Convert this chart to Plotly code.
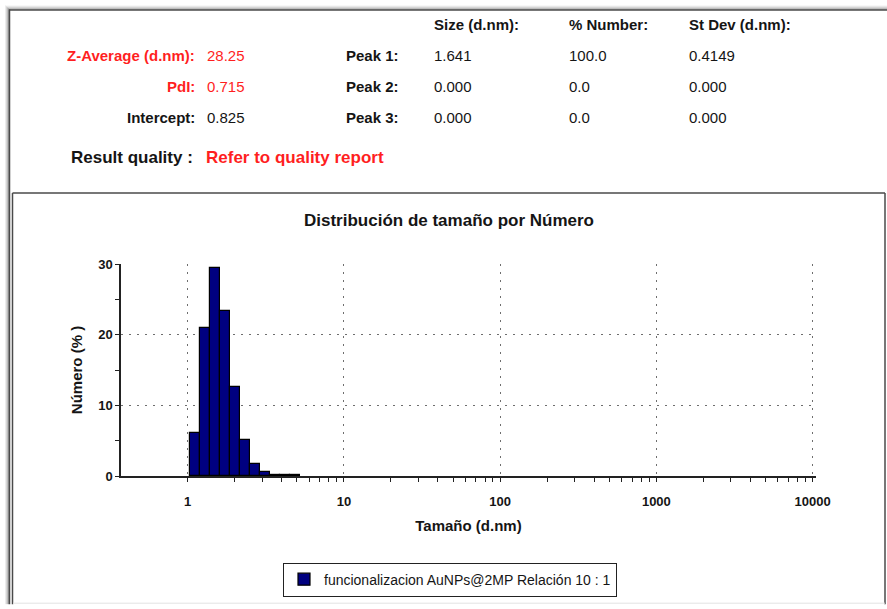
import numpy as np
import plotly.graph_objects as go

# ---- measurement summary ----
summary_labels = ["Z-Average (d.nm):", "PdI:", "Intercept:"]
summary_values = ["28.25", "0.715", "0.825"]
summary_flagged = [True, True, False]

peak_names = ["Peak 1:", "Peak 2:", "Peak 3:"]
peak_columns = ["Size (d.nm):", "% Number:", "St Dev (d.nm):"]
peak_size = ["1.641", "0.000", "0.000"]
peak_number = ["100.0", "0.0", "0.0"]
peak_stdev = ["0.4149", "0.000", "0.000"]

quality_label = "Result quality :"
quality_text = "Refer to quality report"

# ---- size distribution by number ----
size_nm = [1.117, 1.294, 1.499, 1.736, 2.010, 2.328, 2.696, 3.122, 3.615, 4.187, 4.849]
number_pct = [6.1, 20.9, 29.5, 23.4, 12.6, 5.1, 1.7, 0.55, 0.2, 0.15, 0.1]
series_name = "funcionalizacion AuNPs@2MP Relación 10 : 1"

x_major = [1, 10, 100, 1000, 10000]
x_major_text = ["1", "10", "100", "1000", "10000"]
y_major = [0, 10, 20, 30]
y_minor = [5, 15, 25]

W, H = 887, 609
L, R, T, B = 121, 71, 264, 130
PW, PH = W - L - R, H - T - B

FONT = "Liberation Sans, Arial, sans-serif"
RED = "#ff1f1f"
INK = "#151515"
NAVY = "#000080"


def px(xpix):
    return (xpix - L) / PW


def py(ypix):
    return (H - B - ypix) / PH


# log-spaced bins: each bar spans its bin on the log axis
sizes = np.array(size_nm)
ratio = (sizes[-1] / sizes[0]) ** (1.0 / (len(sizes) - 1))
lo = sizes / np.sqrt(ratio)
hi = sizes * np.sqrt(ratio)

x_minor = [m * 10 ** d for d in range(0, 4) for m in range(2, 10)]

fig = go.Figure()
fig.add_trace(go.Bar(
    x=(lo + hi) / 2,
    width=hi - lo,
    y=number_pct,
    name=series_name,
    marker=dict(color=NAVY, line=dict(color="#000000", width=1.2)),
    showlegend=True,
))

x_range = [np.log10(0.374), 4.022]

tick_common = dict(tickcolor="#222", tickwidth=1, ticklen=4)

fig.update_layout(
    width=W, height=H,
    margin=dict(l=L, r=R, t=T, b=B),
    paper_bgcolor="white", plot_bgcolor="white",
    font=dict(family=FONT, color=INK),
    bargap=0,
    title=dict(
        text="Distribución de tamaño por Número",
        font=dict(size=17, weight="bold", color=INK),
        x=px(449), xref="paper", xanchor="center",
        y=1 - 220 / H, yref="container", yanchor="middle",
    ),
    xaxis=dict(
        type="log", range=x_range,
        tickmode="array", tickvals=x_major, ticktext=x_major_text,
        tickfont=dict(size=13, weight="bold", color=INK),
        ticks="outside", **tick_common,
        ticklabelstandoff=9,
        minor=dict(tickmode="array", tickvals=x_minor, ticks="outside",
                   ticklen=4, tickcolor="#222", showgrid=False),
        showgrid=True, gridcolor="#6e6e6e", gridwidth=1, griddash="2px,6px",
        showline=True, linecolor="#222", linewidth=1.5,
        zeroline=False,
        title=dict(text="Tamaño (d.nm)", font=dict(size=15, weight="bold", color=INK),
                   standoff=12),
    ),
    xaxis2=dict(
        type="log", range=x_range, overlaying="x", anchor="y", side="bottom",
        tickmode="array", tickvals=x_major, showticklabels=False,
        ticks="inside", **tick_common,
        minor=dict(tickmode="array", tickvals=x_minor, ticks="inside",
                   ticklen=4, tickcolor="#222", showgrid=False),
        showgrid=False, showline=False, zeroline=False,
    ),
    yaxis=dict(
        range=[0, 30],
        tickmode="array", tickvals=y_major,
        tickfont=dict(size=13, weight="bold", color=INK),
        ticks="outside", **tick_common,
        minor=dict(tickmode="array", tickvals=y_minor, ticks="outside",
                   ticklen=4, tickcolor="#222", showgrid=False),
        showgrid=True, gridcolor="#6e6e6e", gridwidth=1, griddash="2px,6px",
        showline=True, linecolor="#222", linewidth=1.5,
        zeroline=False,
        title=dict(text="Número (% )", font=dict(size=15, weight="bold", color=INK),
                   standoff=12),
    ),
    legend=dict(
        orientation="h",
        x=px(450), xanchor="center",
        y=py(584), yanchor="middle",
        bordercolor="#222", borderwidth=1, bgcolor="white",
        font=dict(size=14, color=INK),
    ),
)

# ---- header block text ----
ann = []
row_y = [53, 84, 115]


def add_text(text, xpix, ypix, anchor, size=15, bold=True, color=INK):
    ann.append(dict(
        text=text, x=px(xpix), y=py(ypix), xref="paper", yref="paper",
        xanchor=anchor, yanchor="middle", showarrow=False,
        font=dict(family=FONT, size=size, color=color,
                  weight="bold" if bold else "normal"),
    ))


for lab, val, flag, yy in zip(summary_labels, summary_values, summary_flagged, row_y):
    c = RED if flag else INK
    add_text(lab, 197, yy, "right", bold=True, color=c)
    add_text(val, 205, yy, "left", bold=False, color=c)

col_x = [432, 567, 687]
for head, xx in zip(peak_columns, col_x):
    add_text(head, xx, 21, "left", bold=True)

for name, s, n, d, yy in zip(peak_names, peak_size, peak_number, peak_stdev, row_y):
    add_text(name, 401, yy, "right", bold=True)
    for v, xx in zip((s, n, d), col_x):
        add_text(v, xx, yy, "left", bold=False)

add_text(quality_label, 195, 156, "right", size=17, bold=True)
add_text(quality_text, 204, 156, "left", size=17, bold=True, color=RED)

fig.update_layout(annotations=ann)

# ---- window frame and panel outline ----
shapes = []


def hline(y, x0, x1, color, width=1):
    shapes.append(dict(type="line", xref="paper", yref="paper",
                       x0=px(x0), x1=px(x1), y0=py(y), y1=py(y),
                       line=dict(color=color, width=width), layer="above"))


def vline(x, y0, y1, color, width=1):
    shapes.append(dict(type="line", xref="paper", yref="paper",
                       x0=px(x), x1=px(x), y0=py(y0), y1=py(y1),
                       line=dict(color=color, width=width), layer="above"))


# soft shadow of the outer frame
for off, col in zip([4, 3, 2, 1], ["#ececec", "#d6d6d6", "#bcbcbc", "#9a9a9a"]):
    hline(6.5 - off, 9 - off, W, col)
    vline(9.5 - off, 6 - off, H, col)
hline(6.5, 9, W, "#4a4a4a", 1.5)
vline(9.5, 6, H, "#4a4a4a", 1.5)

# chart panel
hline(192, 12.5, 885, "#4a4a4a", 1.5)
vline(12.5, 192, H, "#4a4a4a", 1.5)
vline(885, 192, H, "#4a4a4a", 1.5)
hline(608, 13, 885, "#e2e2e2", 1)

fig.update_layout(shapes=shapes)

fig.write_html("out.html")
